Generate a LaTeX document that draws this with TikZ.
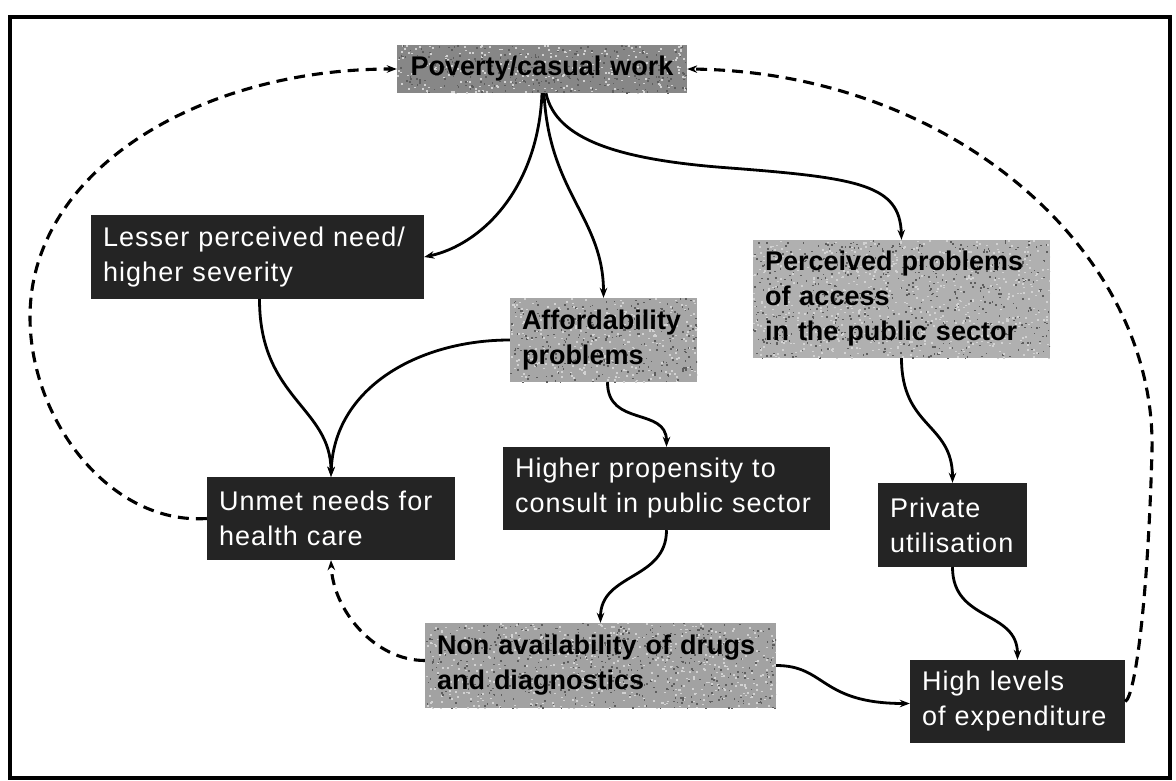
\documentclass[tikz,border=0pt]{standalone}
\usepackage{fontspec}
\setmainfont{Liberation Sans}
\newfontfamily\spacedsans[LetterSpace=4]{Liberation Sans}
\usetikzlibrary{arrows.meta,calc}
\definecolor{boxdark}{HTML}{242424}
\definecolor{povgray}{HTML}{878787}
\definecolor{affgray}{HTML}{A6A6A6}
\definecolor{percgray}{HTML}{B0B0B0}
\definecolor{nongray}{HTML}{A2A2A2}
\definecolor{fleckdark}{HTML}{5E5E5E}
\definecolor{flecklight}{HTML}{D2D2D2}
\begin{document}
\begin{tikzpicture}[x=1pt,y=-1pt,
  every node/.style={inner ysep=0pt, inner xsep=12pt, align=left},
  darkbox/.style={rectangle, fill=boxdark, text=white,
    font=\spacedsans\fontsize{27}{35}\selectfont},
  greybox/.style={rectangle, fill=#1, text=black,
    font=\fontsize{27}{35}\selectfont\bfseries},
  % speckled texture of the grey boxes: half width, half height, fleck count
  grain/.style n args={3}{path picture={
    \foreach \i in {1,...,#3}{
      \fill[flecklight] ($(path picture bounding box.center)+({rand*#1},{rand*#2})$)
        rectangle +(2,1.6);
      \fill[fleckdark] ($(path picture bounding box.center)+({rand*#1},{rand*#2})$)
        rectangle +(1.6,1.6);
    }}},
  link/.style={line width=2.8pt, -{Stealth[length=10pt,width=7.5pt]}},
  feedback/.style={line width=3.1pt, dash pattern=on 11pt off 7pt,
    -{Stealth[length=10pt,width=7.5pt]}}
]
\pgfmathsetseed{4711}
\useasboundingbox (0,0) rectangle (1176,780);
% outer frame
\draw[line width=3.5pt] (10,17) rectangle (1170,778);

% boxes
\node[greybox=povgray, grain={145}{24}{260}, minimum height=48pt, text width=266pt, align=center]
  (pov) at (542,69) {Poverty/casual work};
\node[darkbox, minimum height=84pt, text width=309pt]
  (less) at (257.5,257) {Lesser perceived need/\\higher severity};
\node[greybox=affgray, grain={94}{42}{280}, minimum height=84pt, text width=163pt]
  (aff) at (603.5,340) {Affordability\\problems};
\node[greybox=percgray, grain={149}{59}{600}, minimum height=118pt, text width=273pt]
  (perc) at (901.5,299) {Perceived problems\\of access\\in the public sector};
\node[darkbox, minimum height=83pt, text width=224pt]
  (unmet) at (331,518.5) {Unmet needs for\\health care};
\node[darkbox, minimum height=83pt, text width=303pt]
  (higher) at (666.5,488.5) {Higher propensity to\\consult in public sector};
\node[darkbox, minimum height=84pt, text width=125pt]
  (priv) at (952.5,525) {Private\\utilisation};
\node[greybox=nongray, grain={176}{43}{520}, minimum height=85pt, text width=327pt]
  (non) at (600.5,665.5) {Non availability of drugs\\and diagnostics};
\node[darkbox, minimum height=83pt, text width=191pt]
  (high) at (1017.5,701.5) {High levels\\of expenditure};

% causal links
\draw[link] (pov.south) .. controls +(-4,97) and +(56,-12) .. (less.east);
\draw[link] ($(pov.south)+(2,0)$) .. controls +(5,100) and +(0,-80) .. (aff.north);
\draw[link] ($(pov.south)+(4,0)$) .. controls (556,140) and (620,160) .. (730,168)
  .. controls (860,178) and (900,185) .. (perc.north);
\draw[link] ($(less.south)+(2,0)$) .. controls +(0,100) and +(0,-70) .. (unmet.north);
\draw[link] (aff.west) .. controls +(-90,0) and +(3,-90) .. (unmet.north);
\draw[link] ($(aff.south)+(4,0)$) .. controls +(0,45) and +(0,-40) .. (higher.north);
\draw[link] (higher.south) .. controls +(0,50) and +(0,-50) .. (non.north);
\draw[link] (perc.south) .. controls +(0,70) and +(0,-60) .. (priv.north);
\draw[link] (priv.south) .. controls +(0,55) and +(0,-50) .. (high.north);
\draw[link] (non.east) .. controls +(50,0) and +(-90,0) .. ($(high.west)+(0,2)$);

% feedback loops
\draw[feedback] (unmet.west) .. controls (110,525) and (30,420) .. (30,317)
  .. controls (30,170) and (200,69) .. (pov.west);
\draw[feedback] (high.east) .. controls +(10,-5) and (1148,600) .. (1152,450)
  .. controls (1156,250) and (950,72) .. (pov.east);
\draw[feedback] ($(non.west)+(0,-5)$) .. controls +(-50,0) and +(2,50) .. (unmet.south);
\end{tikzpicture}
\end{document}
